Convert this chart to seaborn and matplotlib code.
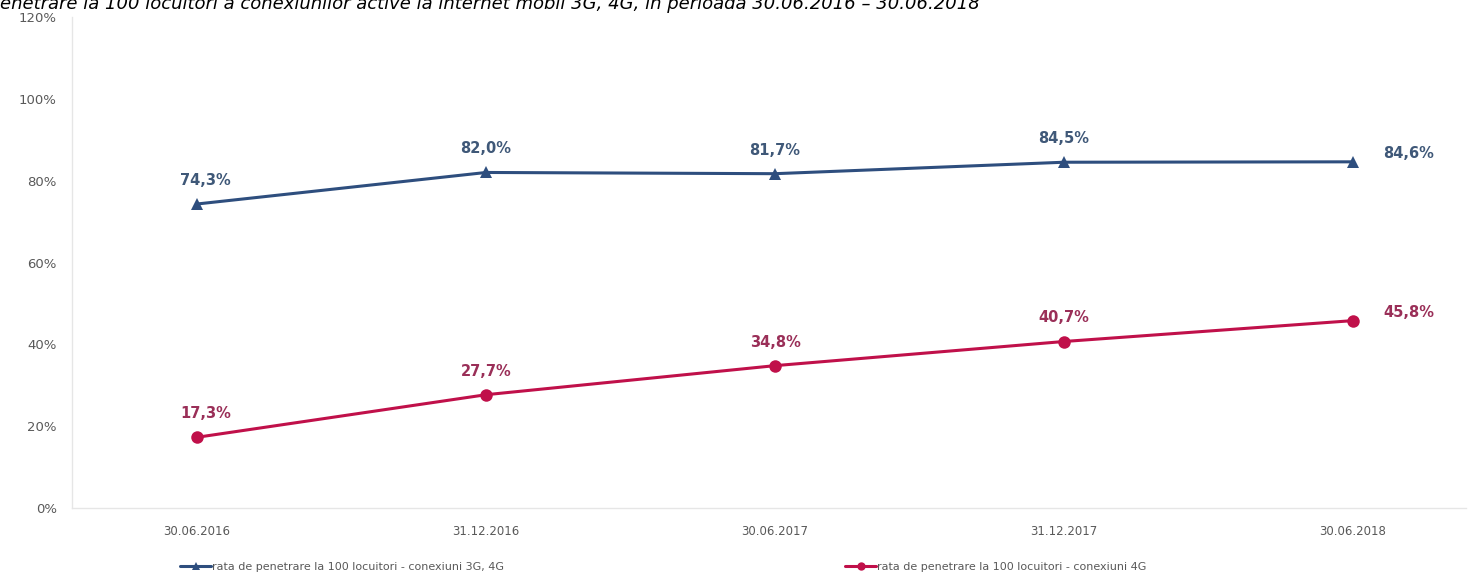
import pandas as pd
import numpy as np
import seaborn as sns
from matplotlib import pyplot as plt

# data
dates = ["30.06.2016", "31.12.2016", "30.06.2017", "31.12.2017", "30.06.2018"]
rate_3g4g = [74.3, 82.0, 81.7, 84.5, 84.6]
rate_4g = [17.3, 27.7, 34.8, 40.7, 45.8]
series_names = ["rata de penetrare la 100 locuitori - conexiuni 3G, 4G",
                "rata de penetrare la 100 locuitori - conexiuni 4G"]
yticks = [0, 20, 40, 60, 80, 100, 120]
title = ("enetrare la 100 locuitori a conexiunilor active la internet mobil 3G, 4G, "
         "în perioada 30.06.2016 – 30.06.2018")

blue = "#2E4E7E"
blue_txt = "#3F5878"
red = "#C0104A"
red_txt = "#9A2F58"

df = pd.DataFrame({
    "x": list(range(len(dates))) * 2,
    "y": rate_3g4g + rate_4g,
    "serie": [series_names[0]] * len(dates) + [series_names[1]] * len(dates),
})

sns.set_style("white")
fig = plt.figure(figsize=(14.7, 5.84), dpi=100)
ax = fig.add_axes([0.049, 0.130, 0.948, 0.841])

sns.lineplot(data=df, x="x", y="y", hue="serie", style="serie",
             palette=[blue, red], markers={series_names[0]: "^", series_names[1]: "o"},
             dashes=False, markersize=9, linewidth=2.2, markeredgewidth=0, ax=ax, legend=True)

ax.set_ylim(0, 120)
ax.set_xlim(-0.433, 4.39)
ax.set_yticks(yticks)
ax.set_yticklabels([f"{t}%" for t in yticks])
ax.set_xticks(range(len(dates)))
ax.set_xticklabels(dates)
ax.tick_params(axis="x", length=0, labelsize=8.5, labelcolor="#595959", pad=12)
ax.tick_params(axis="y", length=0, labelsize=9.5, labelcolor="#595959", pad=11)
ax.set_xlabel("")
ax.set_ylabel("")
for s in ["top", "right"]:
    ax.spines[s].set_visible(False)
for s in ["left", "bottom"]:
    ax.spines[s].set_color("#E6E6E6")
    ax.spines[s].set_linewidth(1)

# value labels
def fmt(v):
    return f"{v:.1f}%".replace(".", ",")

for vals, col in [(rate_3g4g, blue_txt), (rate_4g, red_txt)]:
    for i, v in enumerate(vals):
        if i == len(vals) - 1:
            off, ha, va = (22, 6), "left", "center"
        else:
            off, ha, va = (6 if i == 0 else 0, 17), "center", "center"
        ax.annotate(fmt(v), (i, v), xytext=off, textcoords="offset points",
                    ha=ha, va=va, fontsize=10.5, fontweight="bold", color=col)

handles, labels = ax.get_legend_handles_labels()
ax.get_legend().remove()
for h, l, xpos in zip(handles, labels, [180 / 1470, 845 / 1470]):
    h.set_markersize(6)
    fig.legend([h], [l], loc="center left", bbox_to_anchor=(xpos, 0.029),
               frameon=False, fontsize=8, handlelength=2.8, handletextpad=0.1,
               labelcolor="#595959", borderpad=0, borderaxespad=0)

# title is cut off at the top edge in the source image
fig.text(0.0, 1.0 - 9 / 584, title, fontsize=13, style="italic",
         color="black", ha="left", va="baseline")

fig.savefig("out.png", dpi=100)
